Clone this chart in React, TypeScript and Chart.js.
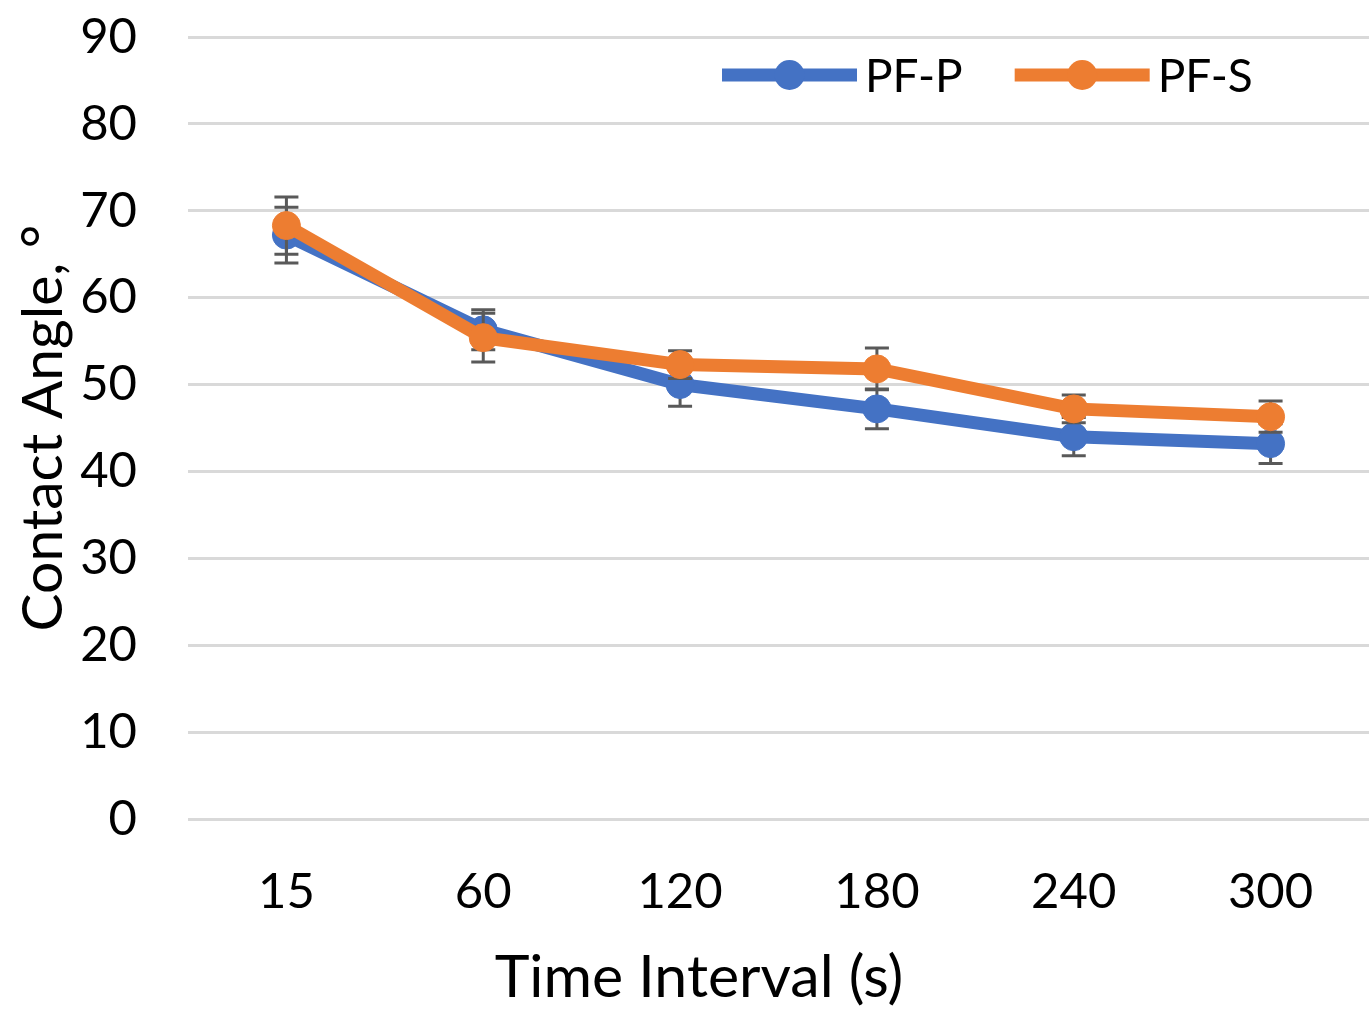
import React, { useEffect, useRef } from "react";
import { Chart, registerables } from "chart.js";

Chart.register(...registerables);

const categories = ["15", "60", "120", "180", "240", "300"];
const pfP = [67.2, 56.3, 50.0, 47.2, 44.0, 43.2];
const pfPErr = [3.2, 2.3, 2.5, 2.3, 2.2, 2.3];
const pfS = [68.3, 55.4, 52.3, 51.8, 47.2, 46.3];
const pfSErr = [3.3, 2.8, 1.6, 2.4, 1.6, 1.8];
const seriesNames = ["PF-P", "PF-S"];
const xTitle = "Time Interval (s)";
const yTitle = "Contact Angle, °";

const BLUE = "#4472C4";
const ORANGE = "#ED7D31";
const FONT = "Lato";

const errorBarPlugin = {
  id: "errorBars",
  beforeDatasetDraw(chart: any, args: any) {
    const ds = chart.data.datasets[args.index];
    const errs: number[] = ds.errors || [];
    const yScale = chart.scales.y;
    const meta = args.meta;
    const ctx = chart.ctx;
    ctx.save();
    ctx.strokeStyle = "#595959";
    ctx.lineWidth = 3;
    meta.data.forEach((pt: any, i: number) => {
      const v = ds.data[i];
      const e = errs[i] || 0;
      const x = pt.x;
      const yTop = yScale.getPixelForValue(v + e);
      const yBot = yScale.getPixelForValue(v - e);
      const cap = 12;
      ctx.beginPath();
      ctx.moveTo(x, yTop);
      ctx.lineTo(x, yBot);
      ctx.moveTo(x - cap, yTop);
      ctx.lineTo(x + cap, yTop);
      ctx.moveTo(x - cap, yBot);
      ctx.lineTo(x + cap, yBot);
      ctx.stroke();
    });
    ctx.restore();
  },
};

const legendPlugin = {
  id: "customLegend",
  afterDraw(chart: any) {
    const ctx = chart.ctx;
    const area = chart.chartArea;
    ctx.save();
    ctx.font = `46px ${FONT}`;
    ctx.textBaseline = "middle";
    const lineLen = 135;
    const gapText = 8;
    const gapItem = 52;
    const items = chart.data.datasets
      .slice()
      .sort((a: any, b: any) => a.legendIndex - b.legendIndex);
    let x = area.left + 534;
    const y = 75;
    items.forEach((d: any) => {
      ctx.strokeStyle = d.borderColor;
      ctx.lineWidth = 13;
      ctx.lineCap = "butt";
      ctx.beginPath();
      ctx.moveTo(x, y);
      ctx.lineTo(x + lineLen, y);
      ctx.stroke();
      ctx.fillStyle = d.borderColor;
      ctx.beginPath();
      ctx.arc(x + lineLen / 2, y, 15, 0, Math.PI * 2);
      ctx.fill();
      ctx.fillStyle = "#000000";
      ctx.textAlign = "left";
      ctx.fillText(d.label, x + lineLen + gapText, y + 2);
      x += lineLen + gapText + ctx.measureText(d.label).width + gapItem;
    });
    ctx.restore();
  },
};

const xTitlePlugin = {
  id: "xTitleText",
  afterDraw(chart: any) {
    const ctx = chart.ctx;
    ctx.save();
    ctx.font = `59px ${FONT}`;
    ctx.fillStyle = "#000000";
    ctx.textAlign = "center";
    ctx.textBaseline = "middle";
    ctx.fillText(xTitle, 699, 978);
    ctx.restore();
  },
};

export default function App() {
  const canvasRef = useRef<HTMLCanvasElement | null>(null);

  useEffect(() => {
    if (!canvasRef.current) return;
    const chart = new Chart(canvasRef.current, {
      type: "line",
      data: {
        labels: categories,
        datasets: [
          {
            label: seriesNames[0],
            data: pfP,
            errors: pfPErr,
            legendIndex: 0,
            order: 1,
            borderColor: BLUE,
            backgroundColor: BLUE,
            borderWidth: 13,
            pointRadius: 14,
            pointBorderWidth: 1,
            pointBackgroundColor: BLUE,
            pointBorderColor: BLUE,
            tension: 0,
          } as any,
          {
            label: seriesNames[1],
            data: pfS,
            errors: pfSErr,
            legendIndex: 1,
            order: 0,
            borderColor: ORANGE,
            backgroundColor: ORANGE,
            borderWidth: 13,
            pointRadius: 14,
            pointBorderWidth: 1,
            pointBackgroundColor: ORANGE,
            pointBorderColor: ORANGE,
            tension: 0,
          } as any,
        ],
      },
      options: {
        responsive: false,
        animation: false,
        layout: { autoPadding: false, padding: { top: 37, right: 2, left: 0, bottom: 0 } },
        plugins: {
          legend: { display: false },
          tooltip: { enabled: false },
        },
        scales: {
          x: {
            offset: true,
            grid: { display: false, drawTicks: false },
            border: { display: false },
            ticks: {
              color: "#000000",
              font: { family: FONT, size: 49 },
              padding: 44,
            },
            title: { display: false, text: xTitle },
            afterFit(scale: any) {
              scale.height = 192;
              scale.paddingLeft = 0;
              scale.paddingRight = 0;
            },
          },
          y: {
            min: 0,
            max: 90,
            grid: { color: "#D9D9D9", lineWidth: 3, drawTicks: false },
            border: { display: false },
            ticks: {
              stepSize: 10,
              color: "#000000",
              font: { family: FONT, size: 49 },
              padding: 51,
            },
            title: {
              display: true,
              text: yTitle,
              color: "#000000",
              font: { family: FONT, size: 57 },
              padding: { top: 9, bottom: 0 },
            },
            afterFit(scale: any) {
              scale.width = 188;
              scale.paddingTop = 0;
              scale.paddingBottom = 0;
            },
          },
        },
      } as any,
      plugins: [errorBarPlugin, legendPlugin, xTitlePlugin],
    });
    return () => chart.destroy();
  }, []);

  return (
    <div style={{ position: "absolute", left: 0, top: 0, width: 1371, height: 1011, background: "#fff", overflow: "hidden" }}>
      <canvas ref={canvasRef} width={1371} height={1011} />
    </div>
  );
}
